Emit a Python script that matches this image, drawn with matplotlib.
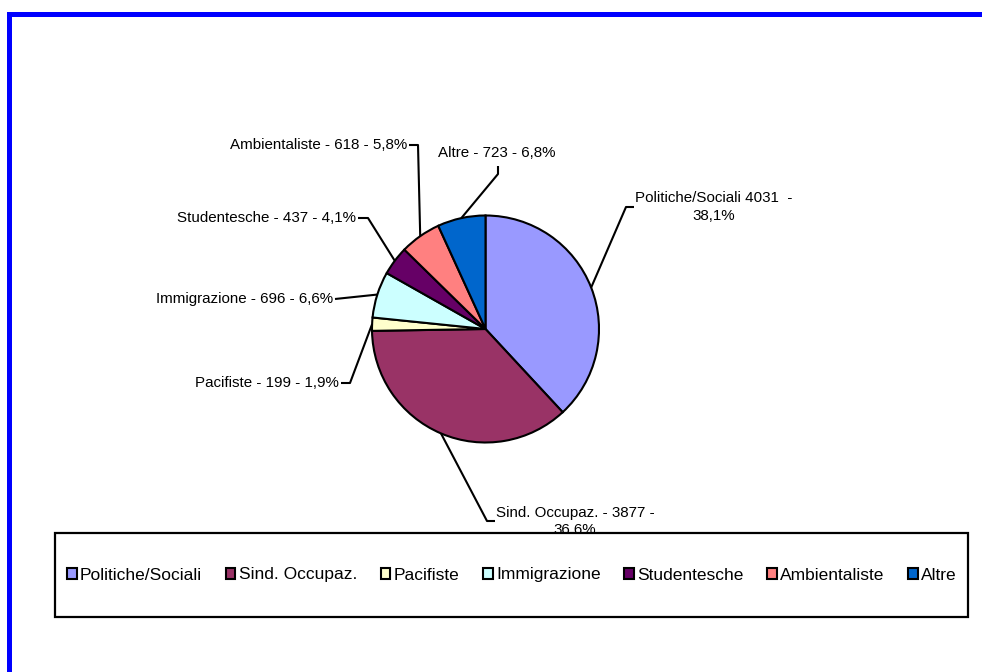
import numpy as np
import matplotlib
matplotlib.use("Agg")
import matplotlib.pyplot as plt
from matplotlib.patches import Rectangle

plt.rcParams['font.family'] = ['Liberation Sans', 'DejaVu Sans']

# ---- data ----
names = ["Politiche/Sociali", "Sind. Occupaz.", "Pacifiste", "Immigrazione",
         "Studentesche", "Ambientaliste", "Altre"]
values = [4031, 3877, 199, 696, 437, 618, 723]
colors = ["#9999FF", "#993366", "#FFFFCC", "#CCFFFF", "#660066", "#FF8080", "#0066CC"]
label_fmt = ["{n} {v}  -\n{p}", "{n} - {v} -\n{p}", "{n} - {v} - {p}",
             "{n} - {v} - {p}", "{n} - {v} - {p}", "{n} - {v} - {p}", "{n} - {v} - {p}"]

W, H = 982, 672
fig = plt.figure(figsize=(W / 100, H / 100), dpi=100)
ax = fig.add_axes([0, 0, 1, 1])

def Y(y):
    return H - y

# layout (pixel coords, y measured from top)
cx, cy, R = 485.5, 329, 113.5
# (elbow, end, text position, ha)
layout = [
    ((626, 207), (634, 207), (714, 207), 'center'),
    ((487, 521), (495, 521), (575, 521.5), 'center'),
    ((350, 383), (341, 383), (339, 383), 'right'),
    (None, (335, 299), (333, 299), 'right'),
    ((368, 218), (358, 218), (356, 218), 'right'),
    ((418, 145), (409, 145), (407, 145), 'right'),
    ((498, 174), (498, 166), (497, 153), 'center'),
]

wedges, _ = ax.pie(values, colors=colors, startangle=90, counterclock=False,
                   center=(cx, Y(cy)), radius=R, frame=True,
                   wedgeprops=dict(edgecolor='black', linewidth=1.5))
ax.set_xlim(0, W)
ax.set_ylim(0, H)
ax.set_aspect('equal')
ax.axis('off')

total = sum(values)
for w, n, v, fmt, (elbow, end, tpos, ha) in zip(wedges, names, values, label_fmt, layout):
    th = np.deg2rad((w.theta1 + w.theta2) / 2)
    ax_pt = (cx + R * np.cos(th), Y(cy) + R * np.sin(th))
    pts = [ax_pt]
    if elbow is not None:
        pts.append((elbow[0], Y(elbow[1])))
    pts.append((end[0], Y(end[1])))
    xs, ys = zip(*pts)
    ax.plot(xs, ys, color='black', lw=1.5, zorder=3, solid_capstyle='butt')
    pct = f"{100 * v / total:.1f}%".replace('.', ',')
    ax.text(tpos[0], Y(tpos[1]), fmt.format(n=n, v=v, p=pct), ha=ha, va='center',
            fontsize=10.9, linespacing=1.3, zorder=4, color='black')

# legend box
ax.add_patch(Rectangle((55, Y(617)), 968 - 55, 617 - 533, facecolor='white',
                       edgecolor='black', lw=1.6, zorder=10))
fig.legend(wedges, names, loc='center',
           bbox_to_anchor=(67 / W, Y(617) / H, (957 - 67) / W, 84 / H),
           mode='expand', ncol=7, frameon=False, borderpad=0, borderaxespad=0,
           handlelength=0.55, handleheight=0.55, handletextpad=0.2,
           fontsize=12.5)

# blue outer frame (clipped at right/bottom)
ax.add_patch(Rectangle((9.5, -20), W + 40, Y(13.5) + 20, facecolor='none',
                       edgecolor='#0000FF', lw=3.6, zorder=20, clip_on=True))

fig.savefig("out.png", dpi=100)
